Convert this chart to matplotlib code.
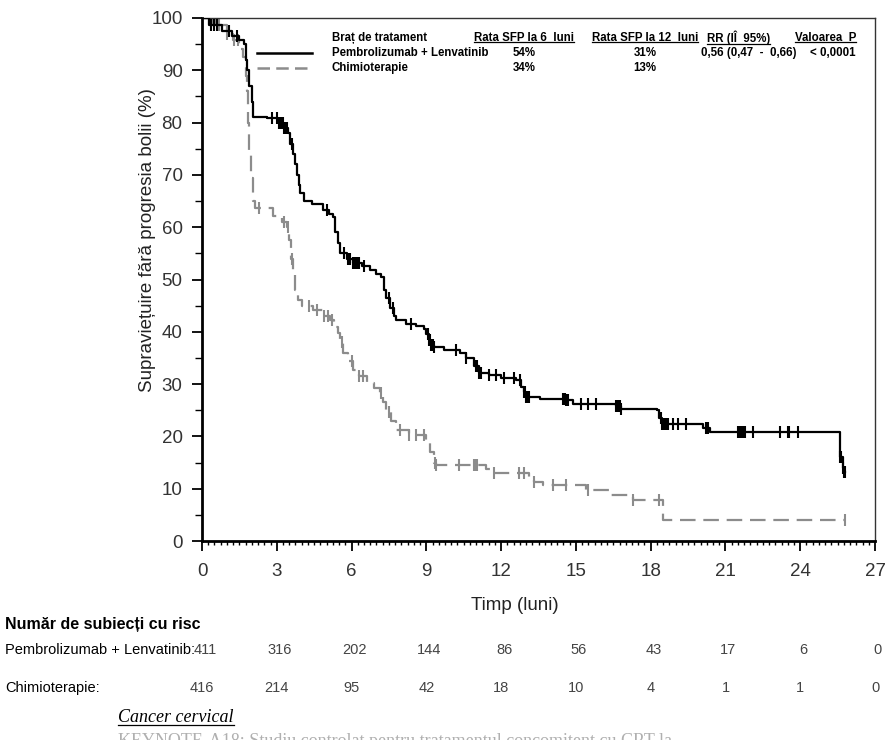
import numpy as np
import matplotlib
matplotlib.use("Agg")
import matplotlib.pyplot as plt
import matplotlib.transforms as mtransforms
from matplotlib.lines import Line2D

# Kaplan-Meier knots (months, % PFS)
pem_t = [0, 0.3, 0.8, 1.2, 1.5, 1.7, 1.75, 1.8, 1.9, 2.0, 2.05, 2.6, 3.05, 3.3, 3.45,
         3.55, 3.65, 3.73, 3.8, 3.88, 3.95, 4.1, 4.4, 4.85, 5.1, 5.25, 5.35, 5.45, 5.55,
         5.8, 6.05, 6.4, 6.75, 7.0, 7.2, 7.3, 7.4, 7.55, 7.7, 7.8, 8.2, 8.6, 8.9, 9.0,
         9.1, 9.2, 9.3, 9.7, 10.35, 10.6, 10.9, 11.1, 11.5, 12.0, 12.6, 12.8, 12.9, 13.0,
         13.55, 14.6, 14.9, 16.6, 16.8, 18.25, 18.35, 18.45, 19.6, 20.1, 20.4, 25.5,
         25.6, 25.7, 25.75, 25.8]
pem_s = [100, 98.7, 97.5, 96.5, 95.8, 95, 92, 90, 87, 84, 81, 80.8, 80, 79, 78,
         76, 74, 72, 70, 68, 66.5, 65, 64.5, 63.3, 62.5, 62, 59, 57, 55,
         54, 53.2, 52.5, 51.8, 51, 50.5, 48, 46.5, 44.5, 43, 42.3, 41.5, 41.2, 40.5, 39.5,
         38.5, 37.5, 37, 36.6, 36, 35, 33.5, 32.2, 31.8, 31.2, 30.8, 29.5, 28.5, 27.5,
         27.1, 27, 26.2, 25.8, 25.2, 25, 23.5, 22.4, 22.3, 21.6, 20.8, 20.8,
         16, 14, 13.2, 13.2]

chemo_t = [0, 0.6, 1.0, 1.25, 1.5, 1.65, 1.75, 1.8, 1.85, 1.9, 1.95, 2.05, 2.13, 2.85,
           3.2, 3.4, 3.5, 3.58, 3.65, 3.75, 3.85, 4.0, 4.45, 4.9, 5.13, 5.3, 5.45, 5.55,
           5.65, 5.85, 6.05, 6.3, 6.6, 6.9, 7.14, 7.25, 7.4, 7.6, 7.8, 8.3, 9.0, 9.15,
           9.3, 9.4, 11.4, 11.55, 13.1, 13.3, 13.7, 15.4, 16.4, 17.3, 18.5, 25.8]
chemo_s = [100, 98.7, 97, 95.8, 94, 92.5, 89, 86, 80, 74, 69.5, 65, 63.7, 62.2,
           61, 60, 57.6, 54, 51, 48, 46, 45, 44.2, 43, 42.3, 41, 39.8, 38,
           36, 34.5, 32.7, 31.5, 30.2, 29.2, 28.3, 26.5, 24.7, 23, 21.2, 20.2, 19.3, 17,
           15, 14.5, 13.7, 13.0, 11.6, 11.2, 10.7, 9.8, 8.8, 7.8, 4.0, 4.0]

# censoring times
pem_cens = [0.35, 0.5, 0.6, 1.1, 1.4, 2.8, 3.0, 3.1, 3.15, 3.2, 3.25, 3.3, 3.35, 3.4,
            3.6, 5.0, 5.7, 5.85, 5.95, 6.05, 6.1, 6.15, 6.2, 6.3, 6.5, 7.5, 7.65, 8.4,
            9.05, 9.1, 9.15, 9.2, 9.25, 9.3, 10.2, 10.6, 11.0, 11.05, 11.1, 11.15, 11.2,
            11.5, 11.8, 12.1, 12.5, 12.75, 12.9, 12.95, 13.0, 13.05, 13.1, 14.5, 14.55,
            14.6, 14.65, 14.7, 15.2, 15.5, 15.8, 16.6, 16.7, 16.75, 16.8, 18.4, 18.45,
            18.5, 18.55, 18.6, 18.7, 18.9, 19.1, 19.4, 20.2, 20.3, 21.5, 21.55, 21.6,
            21.65, 21.7, 21.8, 22.1, 23.2, 23.5, 23.55, 23.9, 25.6, 25.65, 25.7, 25.75, 25.8]
chemo_cens = [0.3, 0.45, 0.55, 0.7, 1.0, 1.3, 1.45, 2.3, 3.3, 3.45, 3.6, 4.3, 4.6, 4.9,
              5.05, 5.2, 5.6, 6.0, 6.3, 6.45, 7.2, 7.5, 7.95, 8.3, 8.6, 8.9, 9.35, 9.4,
              10.3, 10.9, 10.95, 11.0, 11.05, 11.7, 12.7, 12.9, 13.3, 14.1, 14.6, 15.5,
              17.3, 18.35, 25.8]

# number at risk
risk_times = [0, 3, 6, 9, 12, 15, 18, 21, 24, 27]
pem_risk = [411, 316, 202, 144, 86, 56, 43, 17, 6, 0]
chemo_risk = [416, 214, 95, 42, 18, 10, 4, 1, 1, 0]

# summary table
tab_header = ["Braț de tratament", "Rata SFP la 6  luni", "Rata SFP la 12  luni",
              "RR (IÎ  95%)", "Valoarea  P"]
tab_pem = ["Pembrolizumab + Lenvatinib", "54%", "31%", "0,56 (0,47  -  0,66)", "< 0,0001"]
tab_chemo = ["Chimioterapie", "34%", "13%", "", ""]

W, H = 894, 740
fig = plt.figure(figsize=(W / 100, H / 100), dpi=100)


def fx(px):
    return px / W


def fy(py):
    return 1 - py / H


ARIAL = ["Liberation Sans", "DejaVu Sans"]
GRAY = "#8c8c8c"

ax = fig.add_axes([fx(202), fy(541), fx(875) - fx(202), fy(18) - fy(541)])


def step_at(ts, ss, t):
    i = np.searchsorted(ts, t, side="right") - 1
    return np.asarray(ss)[i]


ax.step(pem_t, pem_s, where="post", color="black", lw=1.6, zorder=3)
ax.step(chemo_t, chemo_s, where="post", color=GRAY, lw=1.6, dashes=(7, 3.5), zorder=2)
ax.plot(pem_cens, step_at(pem_t, pem_s, pem_cens), ls="none", marker="|",
        ms=8, mew=1.5, color="black", zorder=3)
ax.plot(chemo_cens, step_at(chemo_t, chemo_s, chemo_cens), ls="none", marker="|",
        ms=8, mew=1.5, color=GRAY, zorder=2)

ax.set_xlim(0, 27)
ax.set_ylim(0, 100)
ax.set_xticks(np.arange(0, 28, 3))
ax.set_xticks(np.arange(0, 27.01, 0.25), minor=True)
ax.set_yticks(np.arange(0, 101, 10))
ax.set_yticks(np.arange(5, 100, 10), minor=True)
ax.tick_params(which="major", length=7, width=1.3, color="black", labelsize=13.5,
               labelcolor="#333333", direction="out")
ax.tick_params(axis="x", which="major", pad=8.5)
ax.tick_params(axis="y", which="major", pad=7)
ax.tick_params(axis="x", which="minor", length=3, width=1.0, direction="out")
ax.tick_params(axis="y", which="minor", length=5, width=1.0, direction="out")
for lab in ax.get_xticklabels() + ax.get_yticklabels():
    lab.set_fontfamily(ARIAL)
for side in ["left", "bottom"]:
    ax.spines[side].set_linewidth(2)
for side in ["top", "right"]:
    ax.spines[side].set_linewidth(1.0)
    ax.spines[side].set_color("#333333")

fig.text(fx(148), fy(240), "Supraviețuire fără progresia bolii (%)", rotation=90,
         ha="center", va="center", fontsize=13.5, family=ARIAL, color="#222222")
fig.text(fx(515), fy(605), "Timp (luni)", ha="center", va="center",
         fontsize=13.5, family=ARIAL, color="#222222")

# legend lines inside the plot
fig.add_artist(Line2D([fx(257), fx(312)], [fy(53), fy(53)], color="black", lw=1.8))
fig.add_artist(Line2D([fx(257), fx(312)], [fy(68), fy(68)], color=GRAY, lw=1.8,
                      dashes=(5, 2.5)))

# summary table
col_x = [332, 524, 645, 701, 856]
col_ha = ["left", "center", "center", "left", "right"]
head_x = [332, 474, 592, 707, 795]
tfont = dict(fontsize=8.3, family=ARIAL, fontweight="bold", va="center")
head_texts = []
for i, h in enumerate(tab_header):
    head_texts.append(fig.text(fx(head_x[i]), fy(38), h, ha="left", **tfont))
for i, v in enumerate(tab_pem):
    fig.text(fx(col_x[i]), fy(53), v, ha=col_ha[i], **tfont)
for i, v in enumerate(tab_chemo):
    if v:
        fig.text(fx(col_x[i]), fy(68), v, ha=col_ha[i], **tfont)

# number at risk table
blend = mtransforms.blended_transform_factory(ax.transData, fig.transFigure)
fig.text(fx(5), fy(625), "Număr de subiecți cu risc", ha="left", va="center",
         fontsize=11.5, family=ARIAL, fontweight="bold")
fig.text(fx(5), fy(650), "Pembrolizumab + Lenvatinib:", ha="left", va="center",
         fontsize=10.5, family=ARIAL)
fig.text(fx(5), fy(688), "Chimioterapie:", ha="left", va="center",
         fontsize=10.5, family=ARIAL)
for t, a, b in zip(risk_times, pem_risk, chemo_risk):
    ax.text(t + 0.12, fy(650), str(a), transform=blend, ha="center", va="center",
            fontsize=10.5, family=ARIAL, color="#444444", clip_on=False)
    ax.text(t, fy(688), str(b), transform=blend, ha="center", va="center",
            fontsize=10.5, family=ARIAL, color="#444444", clip_on=False)

cc = fig.text(fx(118), fy(718), "Cancer cervical", ha="left", va="center",
              fontsize=13, family=["Liberation Serif", "DejaVu Serif"], style="italic")
fig.text(fx(118), fy(742), "KEYNOTE-A18: Studiu controlat pentru tratamentul concomitent cu CRT la",
         ha="left", va="center", fontsize=13, family=["Liberation Serif", "DejaVu Serif"],
         color="#b0b0b0")

# underlines for the table headers and the section title
fig.canvas.draw()
r = fig.canvas.get_renderer()
inv = fig.transFigure.inverted()
for txt in head_texts[1:] + [cc]:
    bb = txt.get_window_extent(r)
    (x0, y0), (x1, y1) = inv.transform([(bb.x0, bb.y0), (bb.x1, bb.y1)])
    off = 1.5 / H
    fig.add_artist(Line2D([x0, x1], [y0 + off, y0 + off], color="black", lw=0.9))

fig.savefig("out.png", dpi=100)
